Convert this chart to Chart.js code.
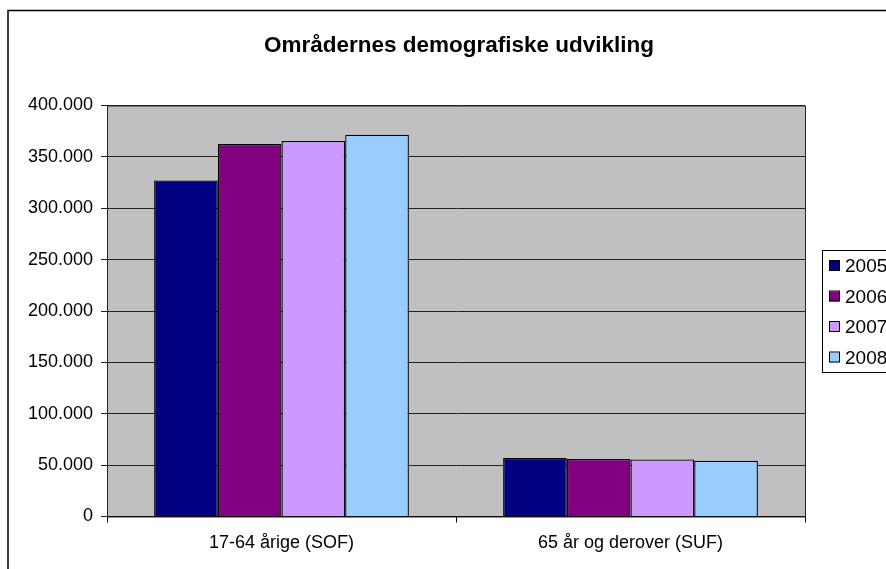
<!DOCTYPE html>
<html>
<head>
<meta charset="utf-8">
<script src="https://cdn.jsdelivr.net/npm/chart.js@4"></script>
<style>
  html, body { margin: 0; padding: 0; background: #fff; overflow: hidden; }
  #wrap { width: 886px; height: 569px; position: relative; }
</style>
</head>
<body>
<div id="wrap"><canvas id="chart" width="886" height="569"></canvas></div>
<script>
  'use strict';

  // data
  var categories = ['17-64 årige (SOF)', '65 år og derover (SUF)'];
  var years = ['2005', '2006', '2007', '2008'];
  var values2005 = [327000, 57000];
  var values2006 = [362500, 56000];
  var values2007 = [365500, 55500];
  var values2008 = [371500, 54300];
  var yTicks = [0, 50000, 100000, 150000, 200000, 250000, 300000, 350000, 400000];

  var colors = ['#000080', '#800080', '#cc99ff', '#99ccff'];
  var series = [values2005, values2006, values2007, values2008];
  var FONT = '"Liberation Sans", Arial, sans-serif';

  function fmt(v) {
    return String(v).replace(/\B(?=(\d{3})+(?!\d))/g, '.');
  }

  // grey plot area, title, legend and frame, drawn Excel style
  var frame = {
    id: 'frame',
    beforeDraw: function(chart) {
      var a = chart.chartArea, ctx = chart.ctx;
      ctx.save();
      ctx.fillStyle = '#c0c0c0';
      ctx.fillRect(a.left, a.top, a.right - a.left, a.bottom - a.top);
      ctx.restore();
    },
    beforeDatasetsDraw: function(chart) {
      var a = chart.chartArea, ctx = chart.ctx;
      ctx.save();
      ctx.strokeStyle = '#222';
      ctx.lineWidth = 1;
      ctx.strokeRect(a.left + 0.5, a.top + 0.5, a.right - a.left, a.bottom - a.top);
      ctx.restore();
    },
    afterDraw: function(chart) {
      var ctx = chart.ctx;
      ctx.save();
      ctx.strokeStyle = '#000';
      ctx.lineWidth = 1.5;
      ctx.strokeRect(8, 10.5, 1000, 1000);

      ctx.fillStyle = '#000';
      ctx.font = 'bold 22.5px ' + FONT;
      ctx.textAlign = 'center';
      ctx.textBaseline = 'alphabetic';
      ctx.fillText('Områdernes demografiske udvikling', 459, 52);

      // legend box
      var lx = 822.5, ly = 250.5;
      ctx.textAlign = 'left';
      ctx.lineWidth = 1;
      ctx.fillStyle = '#fff';
      ctx.fillRect(lx, ly, 120, 122);
      ctx.strokeStyle = '#000';
      ctx.strokeRect(lx, ly, 120, 122);
      ctx.font = '19px ' + FONT;
      ctx.textBaseline = 'middle';
      chart.data.datasets.forEach(function(ds, i) {
        var cy = 266 + i * 30.5;
        ctx.fillStyle = ds.backgroundColor;
        ctx.fillRect(829, cy - 5, 10, 10);
        ctx.strokeRect(829.5, cy - 5.5, 10, 10);
        ctx.fillStyle = '#000';
        ctx.fillText(ds.label, 845, cy + 1);
      });
      ctx.restore();
    }
  };

  var ctx = document.getElementById('chart').getContext('2d');
  new Chart(ctx, {
    type: 'bar',
    data: {
      labels: categories,
      datasets: years.map(function(y, i) {
        return {
          label: y,
          data: series[i],
          backgroundColor: colors[i],
          borderColor: '#000',
          borderWidth: 1.3,
          categoryPercentage: 0.73,
          barPercentage: 1.0
        };
      })
    },
    options: {
      responsive: false,
      animation: false,
      layout: { padding: { left: 0, right: 81, top: 105.5, bottom: 0 } },
      plugins: {
        legend: { display: false },
        tooltip: { enabled: false },
        title: { display: false }
      },
      scales: {
        x: {
          grid: { display: true, drawOnChartArea: false, drawTicks: true, tickLength: 6, color: '#000', offset: true },
          border: { display: true, color: '#000', width: 1 },
          ticks: {
            color: '#000',
            padding: 10,
            font: { family: FONT, size: 18 }
          },
          afterFit: function(s) { s.height = 52.5; }
        },
        y: {
          min: 0,
          max: 400000,
          afterBuildTicks: function(s) { s.ticks = yTicks.map(function(v) { return { value: v }; }); },
          grid: { color: '#222', tickLength: 6, drawTicks: true },
          border: { display: true, color: '#000', width: 1 },
          ticks: {
            color: '#000',
            padding: 8,
            font: { family: FONT, size: 18 },
            callback: function(v) { return fmt(v); }
          },
          afterFit: function(s) { s.width = 107; }
        }
      }
    },
    plugins: [frame]
  });
</script>
</body>
</html>
